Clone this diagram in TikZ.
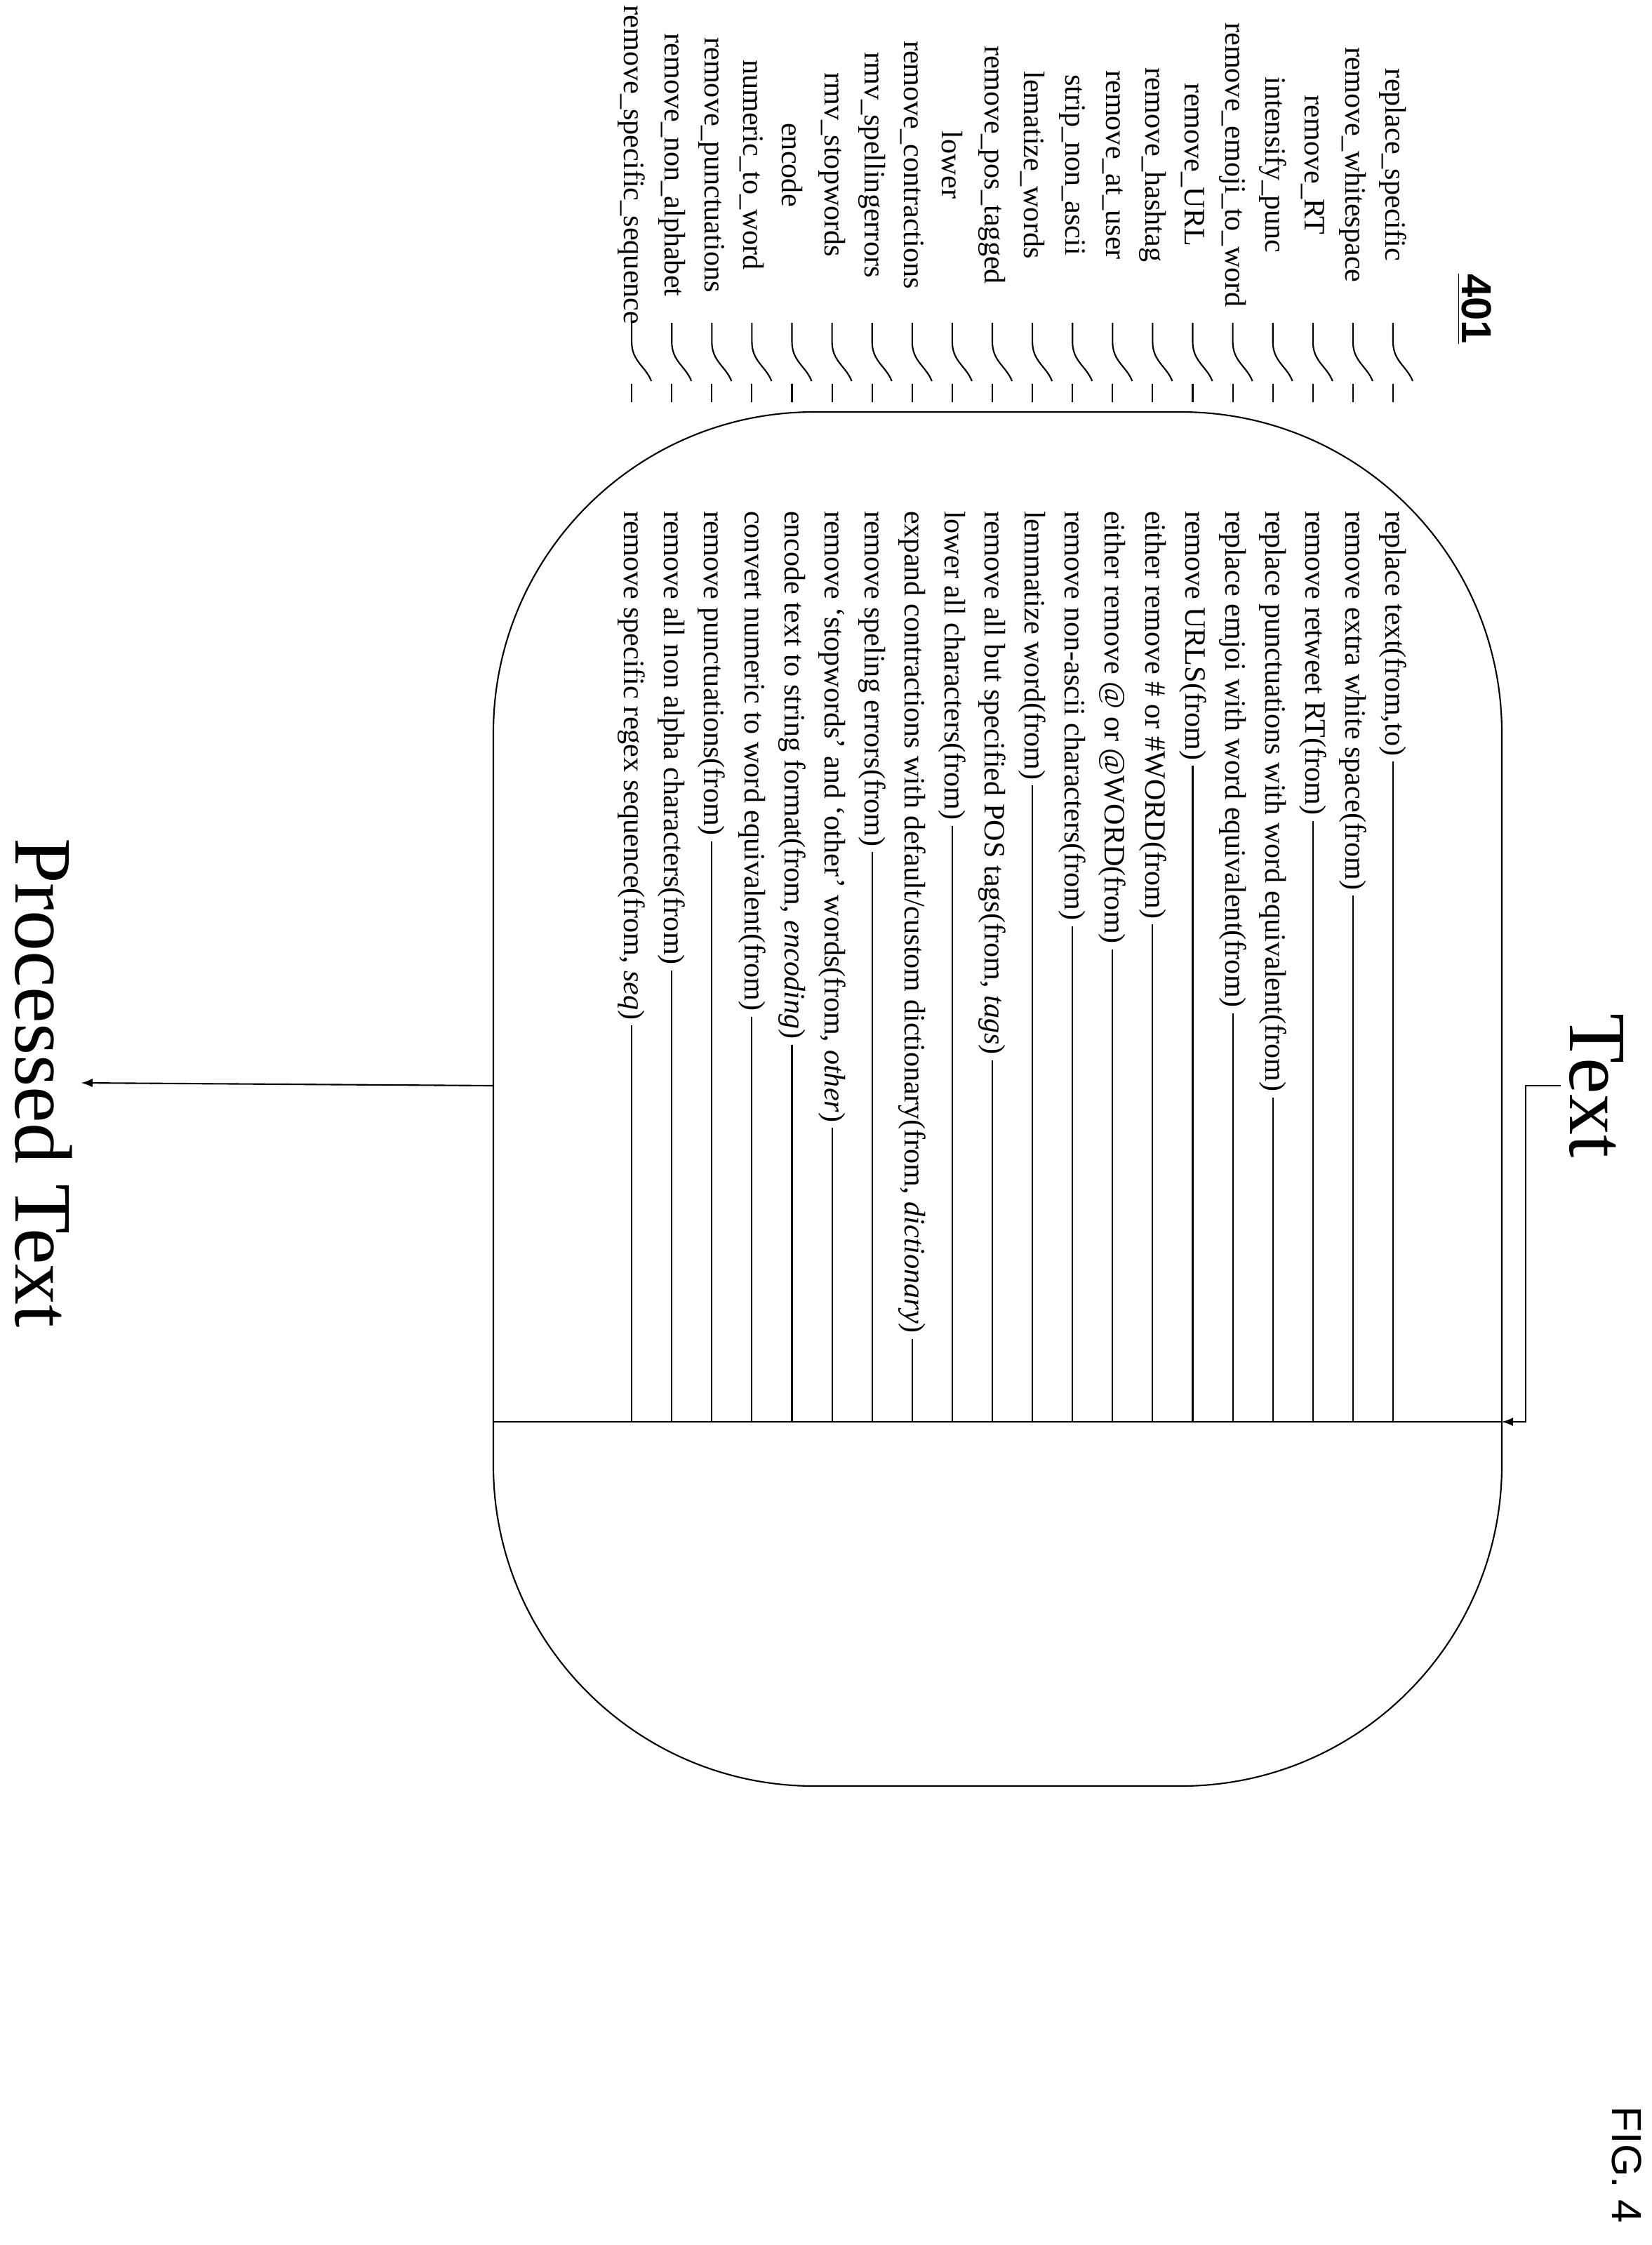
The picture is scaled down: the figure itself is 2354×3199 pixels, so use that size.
\documentclass[tikz,border=0pt]{standalone}
\usepackage{fontspec}
\setmainfont{Liberation Serif}
\newfontfamily\figfont{Liberation Sans}
\tikzset{
  oplabel/.style={rotate=-90, font=\fontsize{12}{14}\selectfont, inner sep=2pt},
  optext/.style={rotate=-90, anchor=west, font=\fontsize{12}{14}\selectfont, inner sep=2pt},
  bigtext/.style={rotate=-90, font=\fontsize{33}{38}\selectfont}
}
\begin{document}
\begin{tikzpicture}[x=0.01cm, y=-0.01cm, line width=0.6pt]
        \useasboundingbox (0,0) rectangle (2354,3199);
        \draw[rounded corners=130] (703,587) rectangle (2140,2545);
        \coordinate(divL) at (703,2026);
        \coordinate(divR) at (2140,2026);
        \draw (divL) -- (divR);

        \node(ref) at (2101,440)[rotate=-90, font=\figfont\bfseries\fontsize{17}{20}\selectfont]{\underline{401}};

        \foreach \lab/\txt [count=\i, evaluate=\i as \x using 1985-(\i-1)*57.1] in {
            {replace\_specific}/{replace text(from,to)},
            {remove\_whitespace}/{remove extra white space(from)},
            {remove\_RT}/{remove retweet RT(from)},
            {intensify\_punc}/{replace punctuations with word equivalent(from)},
            {remove\_emoji\_to\_word}/{replace emjoi with word equivalent(from)},
            {remove\_URL}/{remove URLS(from)},
            {remove\_hashtag}/{either remove \# or \#WORD(from)},
            {remove\_at\_user}/{either remove @ or @WORD(from)},
            {strip\_non\_ascii}/{remove non-ascii characters(from)},
            {lematize\_words}/{lemmatize word(from)},
            {remove\_pos\_tagged}/{remove all but specified POS tags(from, \textit{tags})},
            {lower}/{lower all characters(from)},
            {remove\_contractions}/{expand contractions with default/custom dictionary(from, \textit{dictionary})},
            {rmv\_spellingerrors}/{remove speling errors(from)},
            {rmv\_stopwords}/{remove `stopwords' and `other' words(from, \textit{other})},
            {encode}/{encode text to string format(from, \textit{encoding})},
            {numeric\_to\_word}/{convert numeric to word equivalent(from)},
            {remove\_punctuations}/{remove punctuations(from)},
            {remove\_non\_alphabet}/{remove all non alpha characters(from)},
            {remove\_specific\_sequence}/{remove specific regex sequence(from, \textit{seq})}} {
            \node(lab\i) at (\x,235)[oplabel]{\lab};
            \draw (\x,460) -- (\x,487) .. controls (\x,515) and (\x+20,522) .. (\x+28,543);
            \draw (\x,547) -- (\x,573);
            \node(op\i) at (\x,720)[optext]{\txt};
            \draw (op\i.east) -- (op\i.east |- divL);
        }

        \node(input) at (2275,1547)[bigtext]{Text};
        \node(output) at (62,1543)[bigtext]{Processed Text};
        \draw[->, >=latex] (input.south) -- ++(-50,0) |- (divR);
        \draw[->, >=latex] (703,1547) -- (output.north);

        \node(fig) at (2318,3085)[rotate=-90, font=\figfont\fontsize{17}{20}\selectfont]{FIG. 4};
\end{tikzpicture}
\end{document}
